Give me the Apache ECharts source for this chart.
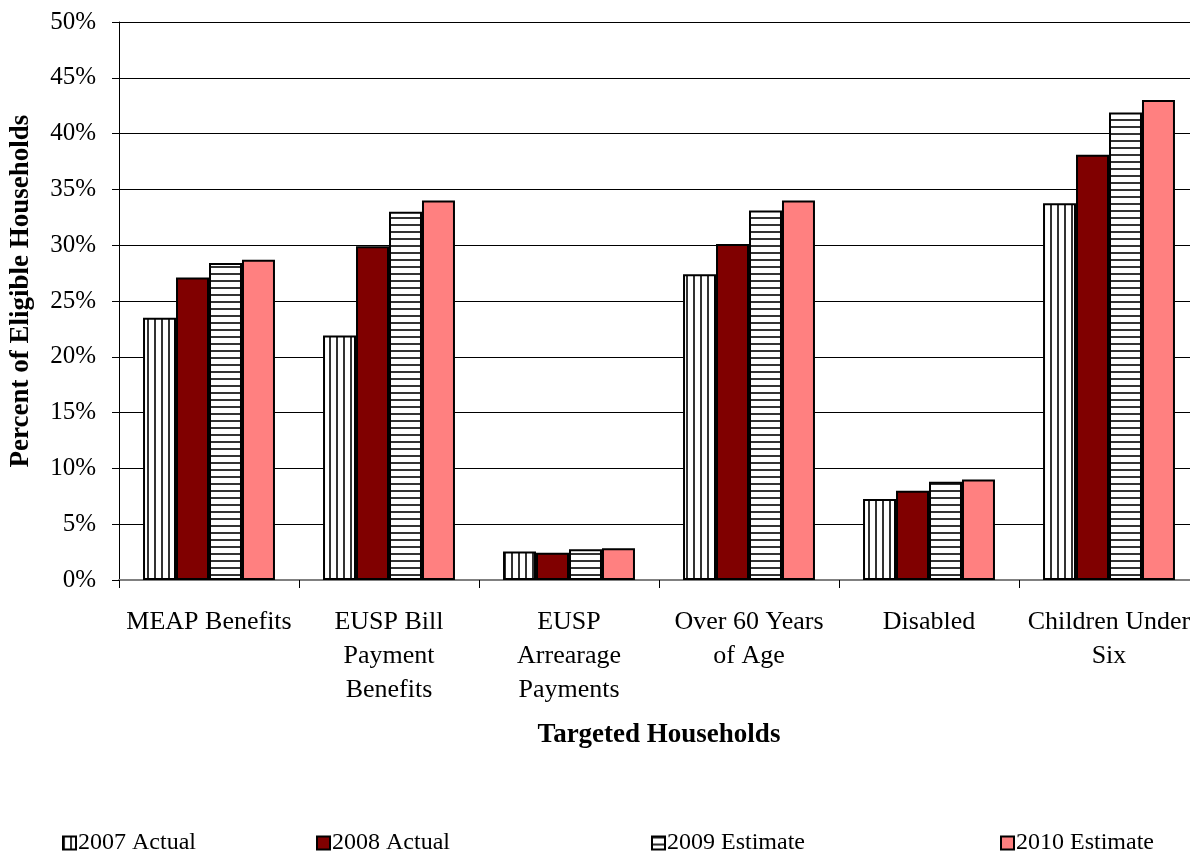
<!DOCTYPE html>
<html>
<head>
<meta charset="utf-8">
<script src="https://cdn.jsdelivr.net/npm/echarts@6/dist/echarts.min.js"></script>
<style>
  html, body { margin: 0; padding: 0; background: #fff; }
  #chart { width: 1190px; height: 856px; }
</style>
</head>
<body>
<div id="chart"></div>
<script>
// Targeted households, percent of eligible households served
const categories = ['MEAP Benefits', 'EUSP Bill\nPayment\nBenefits', 'EUSP\nArrearage\nPayments', 'Over 60 Years\nof Age', 'Disabled', 'Children Under\nSix'];
const seriesNames = ['2007 Actual', '2008 Actual', '2009 Estimate', '2010 Estimate'];
const actual2007 = [23.5, 21.9, 2.55, 27.4, 7.25, 33.75];
const actual2008 = [27.1, 29.9, 2.45, 30.1, 8.0, 38.1];
const estimate2009 = [28.4, 33.0, 2.75, 33.1, 8.8, 41.9];
const estimate2010 = [28.7, 34.0, 2.85, 34.0, 9.0, 43.0];
const yTicks = { min: 0, max: 50, step: 5 };

const FONT = 'Liberation Serif';

// striped fills
function stripePattern(vertical) {
  const c = document.createElement('canvas');
  const period = 7;
  c.width = vertical ? period : 4;
  c.height = vertical ? 4 : period;
  const ctx = c.getContext('2d');
  ctx.fillStyle = '#ffffff';
  ctx.fillRect(0, 0, c.width, c.height);
  ctx.fillStyle = '#333333';
  if (vertical) ctx.fillRect(0, 0, 2, c.height);
  else ctx.fillRect(0, 0, c.width, 2);
  return { image: c, repeat: 'repeat' };
}

const fills = [stripePattern(true), '#800000', stripePattern(false), '#ff8080'];
const values = [actual2007, actual2008, estimate2009, estimate2010];

const chart = echarts.init(document.getElementById('chart'), null, { renderer: 'canvas' });

const legendLefts = [62, 316, 651, 1000];

const option = {
  animation: false,
  backgroundColor: '#ffffff',
  grid: { left: 119, top: 22, width: 1080, height: 558, containLabel: false, outerBoundsMode: 'none' },
  legend: seriesNames.map((n, i) => ({
    data: [n],
    left: legendLefts[i],
    top: 831,
    icon: 'rect',
    itemWidth: 13,
    itemHeight: 13,
    itemGap: 0,
    padding: 0,
    selectedMode: false,
    itemStyle: { borderColor: '#000', borderWidth: 2 },
    textStyle: { fontFamily: FONT, fontSize: 24, color: '#000', padding: [0, 0, 0, -3] }
  })),
  xAxis: {
    type: 'category',
    data: categories,
    name: 'Targeted Households',
    nameLocation: 'middle',
    nameGap: 142,
    nameTextStyle: { fontFamily: FONT, fontSize: 27, fontWeight: 'bold', color: '#000' },
    axisLine: { lineStyle: { color: '#808080', width: 2 } },
    axisTick: { show: true, length: 8, lineStyle: { color: '#000', width: 1 } },
    axisLabel: { fontFamily: FONT, fontSize: 26, color: '#000', margin: 25, lineHeight: 34, interval: 0 }
  },
  yAxis: {
    type: 'value',
    min: yTicks.min,
    max: yTicks.max,
    interval: yTicks.step,
    name: 'Percent of Eligible Households',
    nameLocation: 'middle',
    nameGap: 84,
    nameTextStyle: { fontFamily: FONT, fontSize: 27, fontWeight: 'bold', color: '#000', padding: [0, 0, 0, 20] },
    axisLine: { show: true, lineStyle: { color: '#000', width: 1 } },
    axisTick: { show: true, length: 7, lineStyle: { color: '#000' } },
    axisLabel: { formatter: '{value}%', fontFamily: FONT, fontSize: 25, color: '#000', margin: 23 },
    splitLine: { show: true, lineStyle: { color: '#000', width: 1 } }
  },
  series: seriesNames.map((n, i) => ({
    name: n,
    type: 'bar',
    data: values[i],
    barGap: '0%',
    barCategoryGap: '26.7%',
    itemStyle: { color: fills[i], borderColor: '#000', borderWidth: 2 }
  }))
};

chart.setOption(option);
</script>
</body>
</html>
